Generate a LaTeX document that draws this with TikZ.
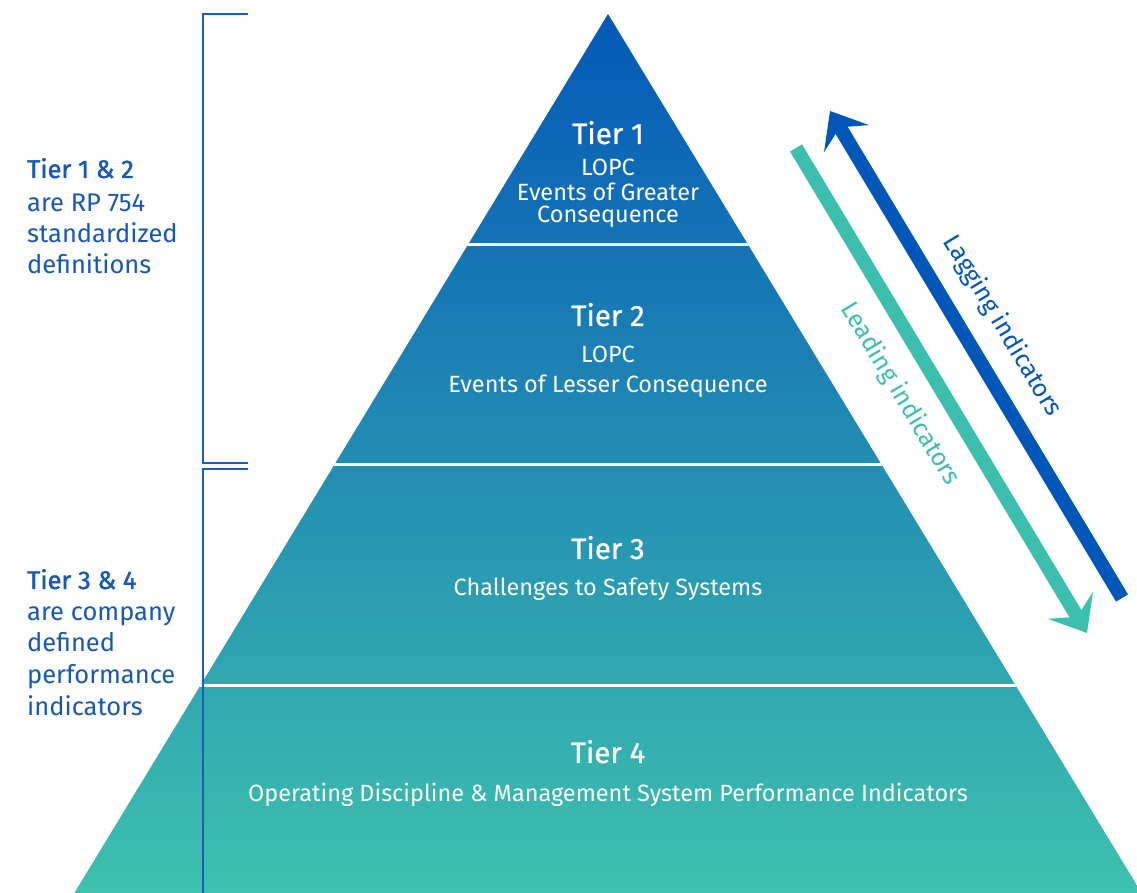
\documentclass[tikz,border=0pt]{standalone}
\usepackage{fontspec}
\setmainfont{Fira Sans}
\newfontfamily\medfont[FakeBold=1.4]{Fira Sans}
\newfontfamily\ttlfont[FakeBold=0.8]{Fira Sans}
\usetikzlibrary{arrows.meta}
\definecolor{pyrtop}{RGB}{5,88,184}
\definecolor{pyrbot}{RGB}{62,193,174}
\definecolor{brk}{RGB}{26,94,190}
\definecolor{lagc}{RGB}{0,87,184}
\definecolor{leadc}{RGB}{61,191,173}
\definecolor{lefttxt}{RGB}{23,88,181}
\begin{document}
\begin{tikzpicture}[x=1pt,y=1pt,
  ttl/.style={anchor=base,text=white,font=\ttlfont\fontsize{29.5}{32}\selectfont},
  sub/.style={anchor=base,text=white,font=\fontsize{23.5}{26}\selectfont},
  lft/.style={anchor=base west,text=lefttxt,font=\fontsize{25.5}{28}\selectfont,inner sep=0},
  lftb/.style={lft,font=\medfont\fontsize{25.5}{28}\selectfont},
  divline/.style={draw=white,line width=3pt},
  bracket/.style={draw=brk,line width=2.2pt},
  indarrow/.style={line width=14pt,-{Stealth[length=32pt,width=52pt,inset=13pt]}},
  indlabel/.style={rotate=-59,font=\fontsize{25}{28}\selectfont}]
\useasboundingbox (0,0) rectangle (1137,893);
\coordinate (apex) at (608,879);
\coordinate (bl) at (74.4,0);
\coordinate (br) at (1141.6,0);
\begin{scope}
  \clip (0,0) rectangle (1137,893);
  \shade[top color=pyrtop, bottom color=pyrbot] (apex) -- (bl) -- (br) -- cycle;
  \clip (apex) -- (bl) -- (br) -- cycle;
  \coordinate (d1l) at (0,648); \coordinate (d1r) at (1137,648);
  \coordinate (d2l) at (0,428); \coordinate (d2r) at (1137,428);
  \coordinate (d3l) at (0,207); \coordinate (d3r) at (1137,207);
  \draw[divline] (d1l) -- (d1r);
  \draw[divline] (d2l) -- (d2r);
  \draw[divline] (d3l) -- (d3r);
\end{scope}
% tier texts
\node[ttl] (t1) at (608,749) {Tier 1};
\node[sub] (t1a) at (608,717) {LOPC};
\node[sub] (t1b) at (608,692) {Events of Greater};
\node[sub] (t1c) at (608,670) {Consequence};
\node[ttl] (t2) at (608,567) {Tier 2};
\node[sub] (t2a) at (608,530) {LOPC};
\node[sub] (t2b) at (608,500) {Events of Lesser Consequence};
\node[ttl] (t3) at (608,334) {Tier 3};
\node[sub] (t3a) at (608,297) {Challenges to Safety Systems};
\node[ttl] (t4) at (608,130) {Tier 4};
\node[sub] (t4a) at (608,91) {Operating Discipline \& Management System Performance Indicators};
% brackets
\coordinate (b1a) at (248,879); \coordinate (b1b) at (203,879);
\coordinate (b1c) at (203,430); \coordinate (b1d) at (248,430);
\coordinate (b2a) at (248,424); \coordinate (b2b) at (203,424);
\coordinate (b2c) at (203,-2);
\draw[bracket] (b1a) -- (b1b) -- (b1c) -- (b1d);
\draw[bracket] (b2a) -- (b2b) -- (b2c);
% left texts
\node[lftb] (l1) at (27,715) {Tier 1 \& 2};
\node[lft] (l2) at (27,681) {are RP 754};
\node[lft] (l3) at (27,650) {standardized};
\node[lft] (l4) at (27,619) {definitions};
\node[lftb] (l5) at (27,304) {Tier 3 \& 4};
\node[lft] (l6) at (27,272) {are company};
\node[lft] (l7) at (27,241) {defined};
\node[lft] (l8) at (27,209) {performance};
\node[lft] (l9) at (27,177) {indicators};
% arrows
\coordinate (lagS) at (1122,295); \coordinate (lagE) at (830,782);
\coordinate (leadS) at (796,745); \coordinate (leadE) at (1087,260);
\draw[indarrow,draw=lagc,fill=lagc] (lagS) -- (lagE);
\draw[indarrow,draw=leadc,fill=leadc] (leadS) -- (leadE);
\node[indlabel,text=lagc] (lagT) at (1002,567) {Lagging indicators};
\node[indlabel,text=leadc] (leadT) at (900,499) {Leading indicators};
\end{tikzpicture}
\end{document}
